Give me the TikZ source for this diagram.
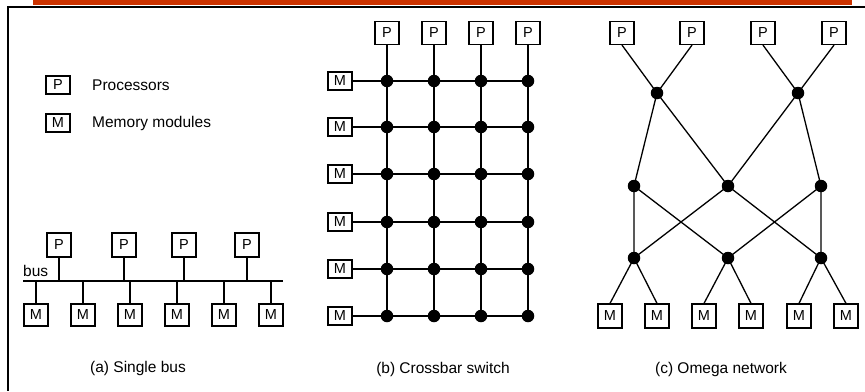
\documentclass[tikz,border=0pt]{standalone}
\usepackage{fontspec}
\setmainfont{Liberation Sans}
\usepackage{tikz}
\usetikzlibrary{calc}

\definecolor{barorange}{RGB}{204,51,0}

\begin{document}
\begin{tikzpicture}[x=1pt, y=-1pt,    unit/.style={draw, line width=1.2pt, minimum width=24pt, minimum height=23pt, inner sep=0pt, font=\fontsize{14.5}{16}\selectfont},    flat/.style={unit, minimum height=18pt},    wire/.style={line width=1.3pt},    switch/.style={circle, fill=black, inner sep=0pt, minimum size=12.5pt},    label/.style={inner sep=0pt, font=\fontsize{15.5}{18}\selectfont}]
		\useasboundingbox (0,0) rectangle (865,391);
		% top bar and frame
		\fill[barorange] (33,0) rectangle (852,4.5);
		\draw[line width=1.4pt] (865,7) -- (8,7) -- (8,391);
		% legend
		\node[flat] (keyp) at (58,85) {P};
		\node[flat] (keym) at (58,123) {M};
		\node[label, anchor=west] (keyptext) at (92,85) {Processors};
		\node[label, anchor=west] (keymtext) at (92,123) {Memory modules};
		% (a) single bus
		\coordinate (busl) at (23,281);
		\coordinate (busr) at (283,281);
		\draw[wire] (busl) -- (busr);
		\node[label, anchor=south west] (buslabel) at ($(busl)+(0,-4)$) {bus};
		\foreach \i/\x in {1/59, 2/124, 3/184, 4/247} {
			\node[unit, minimum height=24pt] (bp\i) at (\x,245) {P};
			\draw[wire] (bp\i.south) -- (bp\i |- busl);
		}
		\foreach \i/\x in {1/36, 2/83, 3/130, 4/177, 5/224, 6/271} {
			\node[unit, minimum height=22pt] (bm\i) at (\x,315) {M};
			\draw[wire] (bm\i.north) -- (bm\i |- busl);
		}
		\node[label] (capa) at (138,368) {(a) Single bus};
		% (b) crossbar switch
		\foreach \j/\x in {1/387, 2/434, 3/481, 4/528} {
			\node[unit] (cp\j) at (\x,33) {P};
		}
		\foreach \i/\y in {1/81, 2/127, 3/174, 4/222, 5/269, 6/316} {
			\node[flat] (cm\i) at (340,\y) {M};
			\foreach \j/\x in {1/387, 2/434, 3/481, 4/528} {
				\node[switch] (x\i\j) at (\x,\y) {};
			}
			\draw[wire] (cm\i.east) -- (x\i4.center);
		}
		\foreach \j in {1,...,4} {
			\draw[wire] (cp\j.south) -- (x6\j.center);
		}
		\node[label] (capb) at (443,369) {(b) Crossbar switch};
		% (c) omega network
		\foreach \j/\x in {1/622, 2/692, 3/763, 4/834} {
			\node[unit] (op\j) at (\x,33) {P};
		}
		\node[switch] (s11) at (657,93) {};
		\node[switch] (s12) at (798,93) {};
		\foreach \k/\x in {1/634, 2/728, 3/821} {
			\node[switch] (s2\k) at (\x,186) {};
			\node[switch] (s3\k) at (\x,258) {};
		}
		\foreach \j/\x in {1/610, 2/657, 3/704, 4/751, 5/799, 6/846} {
			\node[unit, minimum height=24pt] (om\j) at (\x,316) {M};
		}
		\draw[wire] (op1.south) -- (s11.center) -- (op2.south);
		\draw[wire] (op3.south) -- (s12.center) -- (op4.south);
		\draw[wire] (s21.center) -- (s11.center) -- (s22.center) -- (s12.center) -- (s23.center);
		\draw[wire] (s21.center) -- (s31.center) -- (s22.center) -- (s33.center) -- (s23.center) -- (s32.center) -- (s21.center);
		\draw[wire] (om1.north) -- (s31.center) -- (om2.north);
		\draw[wire] (om3.north) -- (s32.center) -- (om4.north);
		\draw[wire] (om5.north) -- (s33.center) -- (om6.north);
		\node[label] (capc) at (721,369) {(c) Omega network};
	\end{tikzpicture}
\end{document}
